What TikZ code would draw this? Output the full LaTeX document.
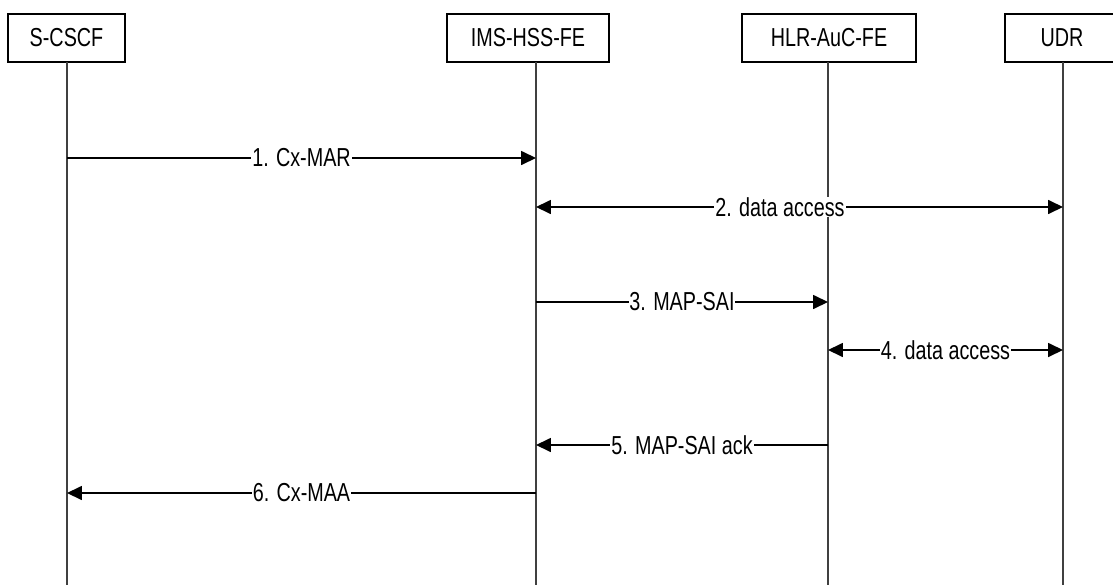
\documentclass[tikz,border=0pt]{standalone}
\usepackage{fontspec}
\setmainfont{Liberation Sans}[FakeStretch=0.76]
\usetikzlibrary{arrows.meta}

\begin{document}
\begin{tikzpicture}[x=0.02cm, y=-0.02cm, font=\fontsize{14.8}{17}\selectfont]
        \tikzstyle{entity} = [rectangle, draw=black, line width=0.6pt, minimum height=48*0.02cm, inner sep=0pt, text centered]
        \tikzstyle{life} = [draw=black!75, line width=0.6pt]
        \tikzstyle{msg} = [line width=0.75pt, -{Triangle[length=8.5pt, width=8pt]}]
        \tikzstyle{both} = [line width=0.75pt, {Triangle[length=8.5pt, width=8pt]}-{Triangle[length=8.5pt, width=8pt]}]
        \tikzstyle{lbl} = [fill=white, inner sep=0.5pt]

        \clip (0,0) rectangle (1113,585);

        % Nodes
        \node (scscf) [entity, minimum width=117*0.02cm] at (66.5,38) {S-CSCF};
        \node (imshss) [entity, minimum width=162*0.02cm] at (528,38) {IMS-HSS-FE};
        \node (hlrauc) [entity, minimum width=174*0.02cm] at (829,38) {HLR-AuC-FE};
        \node (udr) [entity, minimum width=114*0.02cm] at (1062,38) {UDR};

        % Lifelines
        \coordinate (l1) at (67,62);
        \coordinate (l2) at (536,62);
        \coordinate (l3) at (828,62);
        \coordinate (l4) at (1063,62);
        \foreach \l in {l1,l2,l3,l4}
            \draw [life] (\l) -- (\l |- 0,585);

        % Rows
        \coordinate (r1) at (0,158);
        \coordinate (r2) at (0,207);
        \coordinate (r3) at (0,302);
        \coordinate (r4) at (0,350);
        \coordinate (r5) at (0,445);
        \coordinate (r6) at (0,493);

        % Arrows
        \draw [msg] (l1 |- r1) -- node [lbl] {1. Cx-MAR} (l2 |- r1);
        \draw [both] (l2 |- r2) -- node [lbl, pos=0.463] {2. data access} (l4 |- r2);
        \draw [msg] (l2 |- r3) -- node [lbl] {3. MAP-SAI} (l3 |- r3);
        \draw [both] (l3 |- r4) -- node [lbl] {4. data access} (l4 |- r4);
        \draw [msg] (l3 |- r5) -- node [lbl] {5. MAP-SAI ack} (l2 |- r5);
        \draw [msg] (l2 |- r6) -- node [lbl] {6. Cx-MAA} (l1 |- r6);

    \end{tikzpicture}
\end{document}
